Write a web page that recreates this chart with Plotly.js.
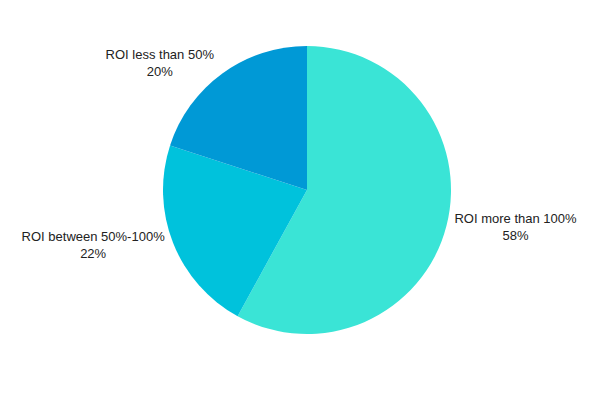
<!DOCTYPE html>
<html>
<head>
<meta charset="utf-8">
<script src="https://cdn.plot.ly/plotly-3.0.1.min.js"></script>
<style>
  html, body { margin: 0; padding: 0; background: #fff; }
  #chart { width: 600px; height: 400px; }
</style>
</head>
<body>
<div id="chart"></div>
<script>
var labels = ['ROI more than 100%', 'ROI between 50%-100%', 'ROI less than 50%'];
var shares = [58, 22, 20];
var colors = ['#3AE4D6', '#00C2DC', '#0099D6'];

var trace = {
    type: 'pie',
    labels: labels,
    values: shares,
    sort: false,
    direction: 'clockwise',
    rotation: 0,
    marker: { colors: colors, line: { width: 0 } },
    textinfo: 'label+percent',
    texttemplate: '%{label}<br>%{percent:.0%}',
    textposition: 'outside',
    outsidetextfont: { family: 'Liberation Sans, Arial, sans-serif', size: 13, color: '#222' },
    hoverinfo: 'none'
};

var layout = {
    width: 600,
    height: 400,
    showlegend: false,
    margin: { l: 14, r: 0, t: 46, b: 66 },
    paper_bgcolor: '#fff',
    font: { family: 'Liberation Sans, Arial, sans-serif', size: 13, color: '#222' }
};

Plotly.newPlot('chart', [trace], layout, { displayModeBar: false, staticPlot: true });
</script>
</body>
</html>
